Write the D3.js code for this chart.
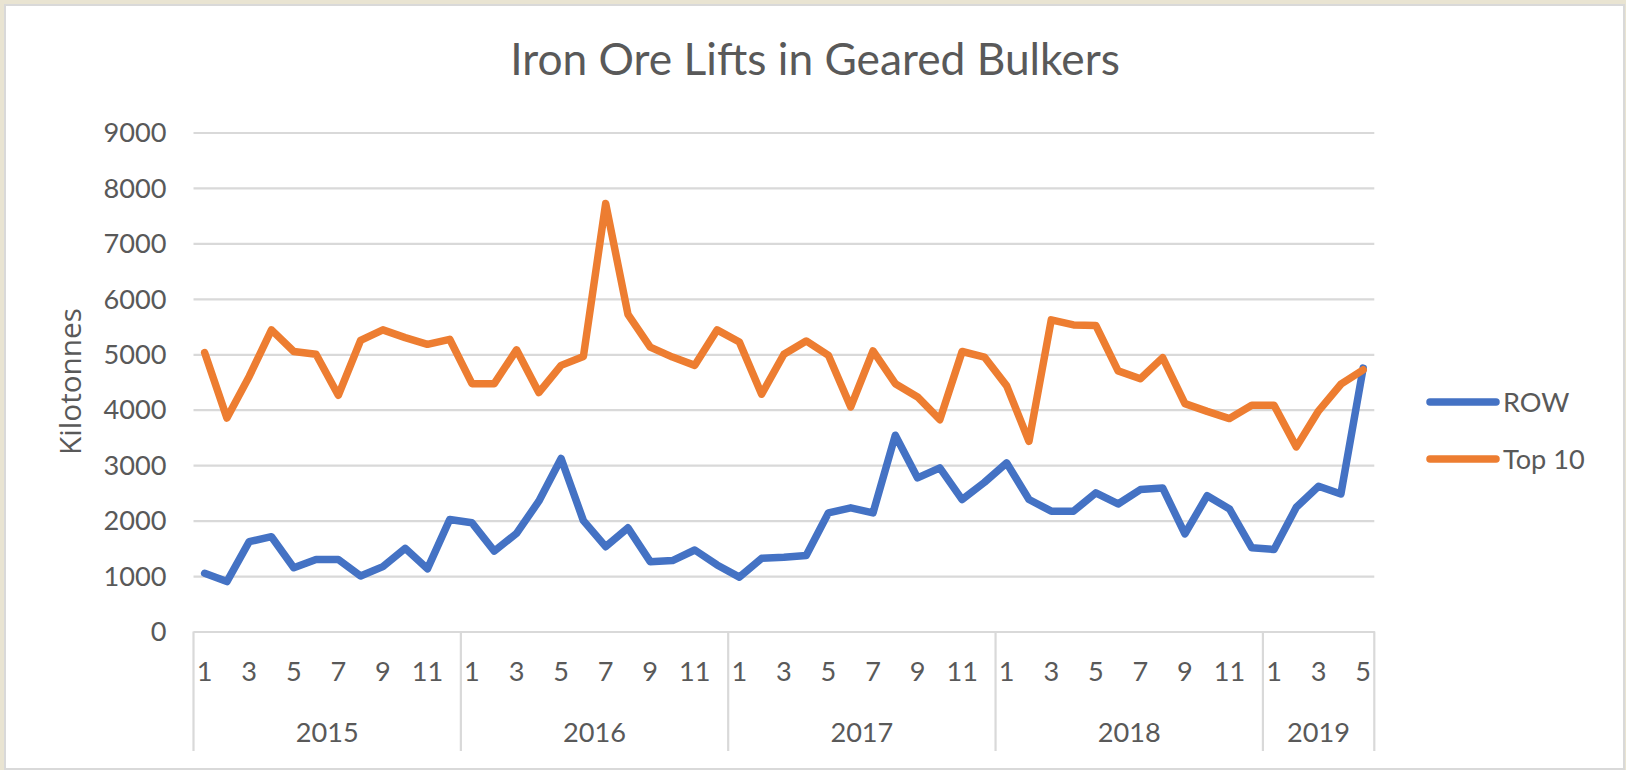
<!DOCTYPE html>
<html>
<head>
<meta charset="utf-8">
<script src="https://cdn.jsdelivr.net/npm/d3@7"></script>
<style>
  html, body { margin: 0; padding: 0; background: #E9E4D2; }
  svg { display: block; }
</style>
</head>
<body>
<svg id="chart" width="1626" height="770"></svg>
<script>
// ---- data ----
const title = "Iron Ore Lifts in Geared Bulkers";
const yAxisTitle = "Kilotonnes";
const years = ["2015", "2016", "2017", "2018", "2019"];
const monthsPerYear = [12, 12, 12, 12, 5];
const seriesNames = ["ROW", "Top 10"];
const rowValues = [
  1050, 900, 1620, 1710, 1150, 1300, 1300, 1000, 1170, 1500, 1130, 2020,
  1960, 1450, 1770, 2350, 3120, 2000, 1530, 1870, 1260, 1280, 1470, 1200,
  980, 1320, 1340, 1370, 2140, 2230, 2140, 3540, 2770, 2950, 2380, 2690,
  3040, 2380, 2170, 2170, 2500, 2300, 2560, 2590, 1760, 2450, 2210, 1510,
  1480, 2240, 2620, 2480, 4750
];
const top10Values = [
  5030, 3850, 4600, 5440, 5050, 5000, 4260, 5250, 5440, 5300, 5180, 5270,
  4470, 4470, 5080, 4310, 4800, 4960, 7720, 5720, 5130, 4950, 4800, 5440,
  5220, 4280, 5000, 5240, 4980, 4050, 5060, 4470, 4230, 3820, 5050, 4950,
  4430, 3430, 5620, 5530, 5520, 4700, 4560, 4940, 4110, 3970, 3840, 4080,
  4080, 3330, 3980, 4460, 4720
];
const yTicks = [0, 1000, 2000, 3000, 4000, 5000, 6000, 7000, 8000, 9000];
const colors = ["#4472C4", "#ED7D31"];

// ---- build categories ----
const categories = [];
years.forEach((y, yi) => {
  for (let m = 1; m <= monthsPerYear[yi]; m++) categories.push({ year: y, month: m, key: y + "-" + m });
});

const svg = d3.select("#chart");
const plot = { left: 193.5, right: 1374.3, top: 132.5, bottom: 631.5 };
const textColor = "#595959";
const gridColor = "#D9D9D9";

// chart area
svg.append("rect").attr("x", 5).attr("y", 5).attr("width", 1619).attr("height", 764)
  .attr("fill", "#fff").attr("stroke", "#D9D9D9").attr("stroke-width", 2);

// font size fitting helper
function fitSize(text, family, targetWidth) {
  const t = svg.append("text").attr("font-family", family).attr("font-size", 100).text(text);
  const w = t.node().getComputedTextLength();
  t.remove();
  return 100 * targetWidth / w;
}
const labelFont = "Lato, 'Open Sans', sans-serif";
const labelSize = fitSize("9000", labelFont, 63);

// scales
const x = d3.scaleBand().domain(categories.map(d => d.key)).range([plot.left, plot.right]).padding(0);
const xc = k => x(k) + x.bandwidth() / 2;
const y = d3.scaleLinear().domain([0, 9000]).range([plot.bottom, plot.top]);

// y axis with gridlines
const yAxis = svg.append("g").attr("transform", `translate(${plot.left},0)`)
  .call(d3.axisLeft(y).tickValues(yTicks).tickSize(-(plot.right - plot.left)).tickPadding(27).tickFormat(d3.format("d")));
yAxis.select(".domain").remove();
yAxis.selectAll(".tick line").attr("stroke", gridColor).attr("stroke-width", 2.2);
yAxis.selectAll(".tick text").attr("fill", textColor).attr("font-family", labelFont)
  .attr("font-size", labelSize).attr("dy", "0.34em");

// x axis (months)
const xAxis = svg.append("g").attr("transform", `translate(0,${plot.bottom})`)
  .call(d3.axisBottom(x).tickSize(0).tickPadding(30)
    .tickFormat(k => { const c = categories.find(d => d.key === k); return c.month % 2 === 1 ? c.month : ""; }));
xAxis.select(".domain").attr("stroke", gridColor).attr("stroke-width", 2.2);
xAxis.selectAll(".tick text").attr("fill", textColor).attr("font-family", labelFont).attr("font-size", labelSize);

// year groups
let idx = 0;
const boundaries = [0];
years.forEach((yr, yi) => {
  const first = categories[idx].key;
  const last = categories[idx + monthsPerYear[yi] - 1].key;
  const mid = (x(first) + x(last) + x.bandwidth()) / 2;
  svg.append("text").attr("x", mid).attr("y", 742).attr("text-anchor", "middle")
    .attr("fill", textColor).attr("font-family", labelFont).attr("font-size", labelSize).text(yr);
  idx += monthsPerYear[yi];
  boundaries.push(idx);
});
boundaries.forEach(b => {
  const bx = b < categories.length ? x(categories[b].key) : x(categories[categories.length - 1].key) + x.bandwidth();
  svg.append("line").attr("x1", bx).attr("x2", bx).attr("y1", plot.bottom).attr("y2", 751)
    .attr("stroke", gridColor).attr("stroke-width", 2.2);
});

// lines
const line = d3.line().x((d, i) => xc(categories[i].key)).y(d => y(d));
[rowValues, top10Values].forEach((vals, si) => {
  svg.append("path").datum(vals).attr("d", line).attr("fill", "none")
    .attr("stroke", colors[si]).attr("stroke-width", 7.5)
    .attr("stroke-linejoin", "round").attr("stroke-linecap", "round");
});

// title
const titleFont = "Lato, 'Open Sans', sans-serif";
const titleSize = fitSize(title, titleFont, 610);
svg.append("text").attr("x", 815).attr("y", 75).attr("text-anchor", "middle")
  .attr("fill", textColor).attr("font-family", titleFont).attr("font-size", titleSize).text(title);

// y axis title
const ytFont = "'Open Sans', sans-serif";
const ytSize = fitSize(yAxisTitle, ytFont, 147);
svg.append("text").attr("transform", "translate(81,381.5) rotate(-90)").attr("text-anchor", "middle")
  .attr("fill", textColor).attr("font-family", ytFont).attr("font-size", ytSize).text(yAxisTitle);

// legend
const legendY = [402, 459];
seriesNames.forEach((n, i) => {
  svg.append("line").attr("x1", 1430).attr("x2", 1496).attr("y1", legendY[i]).attr("y2", legendY[i])
    .attr("stroke", colors[i]).attr("stroke-width", 7.5).attr("stroke-linecap", "round");
  svg.append("text").attr("x", 1503).attr("y", legendY[i]).attr("dy", "0.36em")
    .attr("fill", textColor).attr("font-family", labelFont).attr("font-size", labelSize).text(n);
});
</script>
</body>
</html>
